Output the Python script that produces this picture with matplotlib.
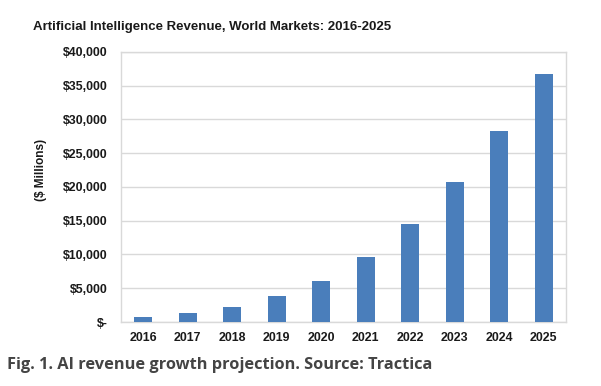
#!/usr/bin/env python3

import matplotlib.pyplot as plt
from matplotlib.ticker import FuncFormatter

years = ["2016", "2017", "2018", "2019", "2020", "2021", "2022", "2023", "2024", "2025"]
revenue = [750, 1280, 2270, 3800, 6030, 9580, 14470, 20790, 28340, 36740]
y_ticks = [0, 5000, 10000, 15000, 20000, 25000, 30000, 35000, 40000]

title = "Artificial Intelligence Revenue, World Markets: 2016-2025"
y_label = "($ Millions)"
caption = "Fig. 1. AI revenue growth projection. Source: Tractica"


def money(v, pos):
    if v == 0:
        return "$-"
    return f"${v:,.0f}"


def main():
    plt.rcParams["font.family"] = ["Liberation Sans", "DejaVu Sans"]
    fig = plt.figure(figsize=(6.01, 3.86), dpi=100)
    ax = fig.add_axes([0.2013, 0.1658, 0.7405, 0.6995])

    x = range(len(years))
    ax.bar(list(x), revenue, width=0.4, color="#4a7ebb", zorder=3)

    ax.set_xlim(-0.5, len(years) - 0.5)
    ax.set_ylim(0, 40000)
    ax.set_yticks(y_ticks)
    ax.yaxis.set_major_formatter(FuncFormatter(money))
    ax.set_xticks(list(x))
    ax.set_xticklabels(years)

    ax.grid(axis="y", color="#d9d9d9", linewidth=1, zorder=0)
    for s in ax.spines.values():
        s.set_color("#d9d9d9")
        s.set_linewidth(1)
    ax.tick_params(axis="y", length=0, labelsize=8.9, colors="#1a1a1a", pad=9.5)
    ax.tick_params(axis="x", length=0, labelsize=8.9, colors="#1a1a1a", pad=7)
    for lbl in ax.get_xticklabels() + ax.get_yticklabels():
        lbl.set_fontweight("bold")

    fig.text(0.069, 0.56, y_label, fontsize=8.6, fontweight="bold", color="#1a1a1a",
             rotation=90, ha="center", va="center")

    fig.text(0.055, 0.93, title, fontsize=9.5, fontweight="bold", color="#1a1a1a",
             ha="left", va="center")
    fig.text(0.011, 0.054, caption, fontsize=11.8, fontweight="bold", color="#444444",
             ha="left", va="center", family=["Open Sans", "DejaVu Sans"])

    fig.savefig("out.png", dpi=100)
    plt.close(fig)


if __name__ == "__main__":
    main()
